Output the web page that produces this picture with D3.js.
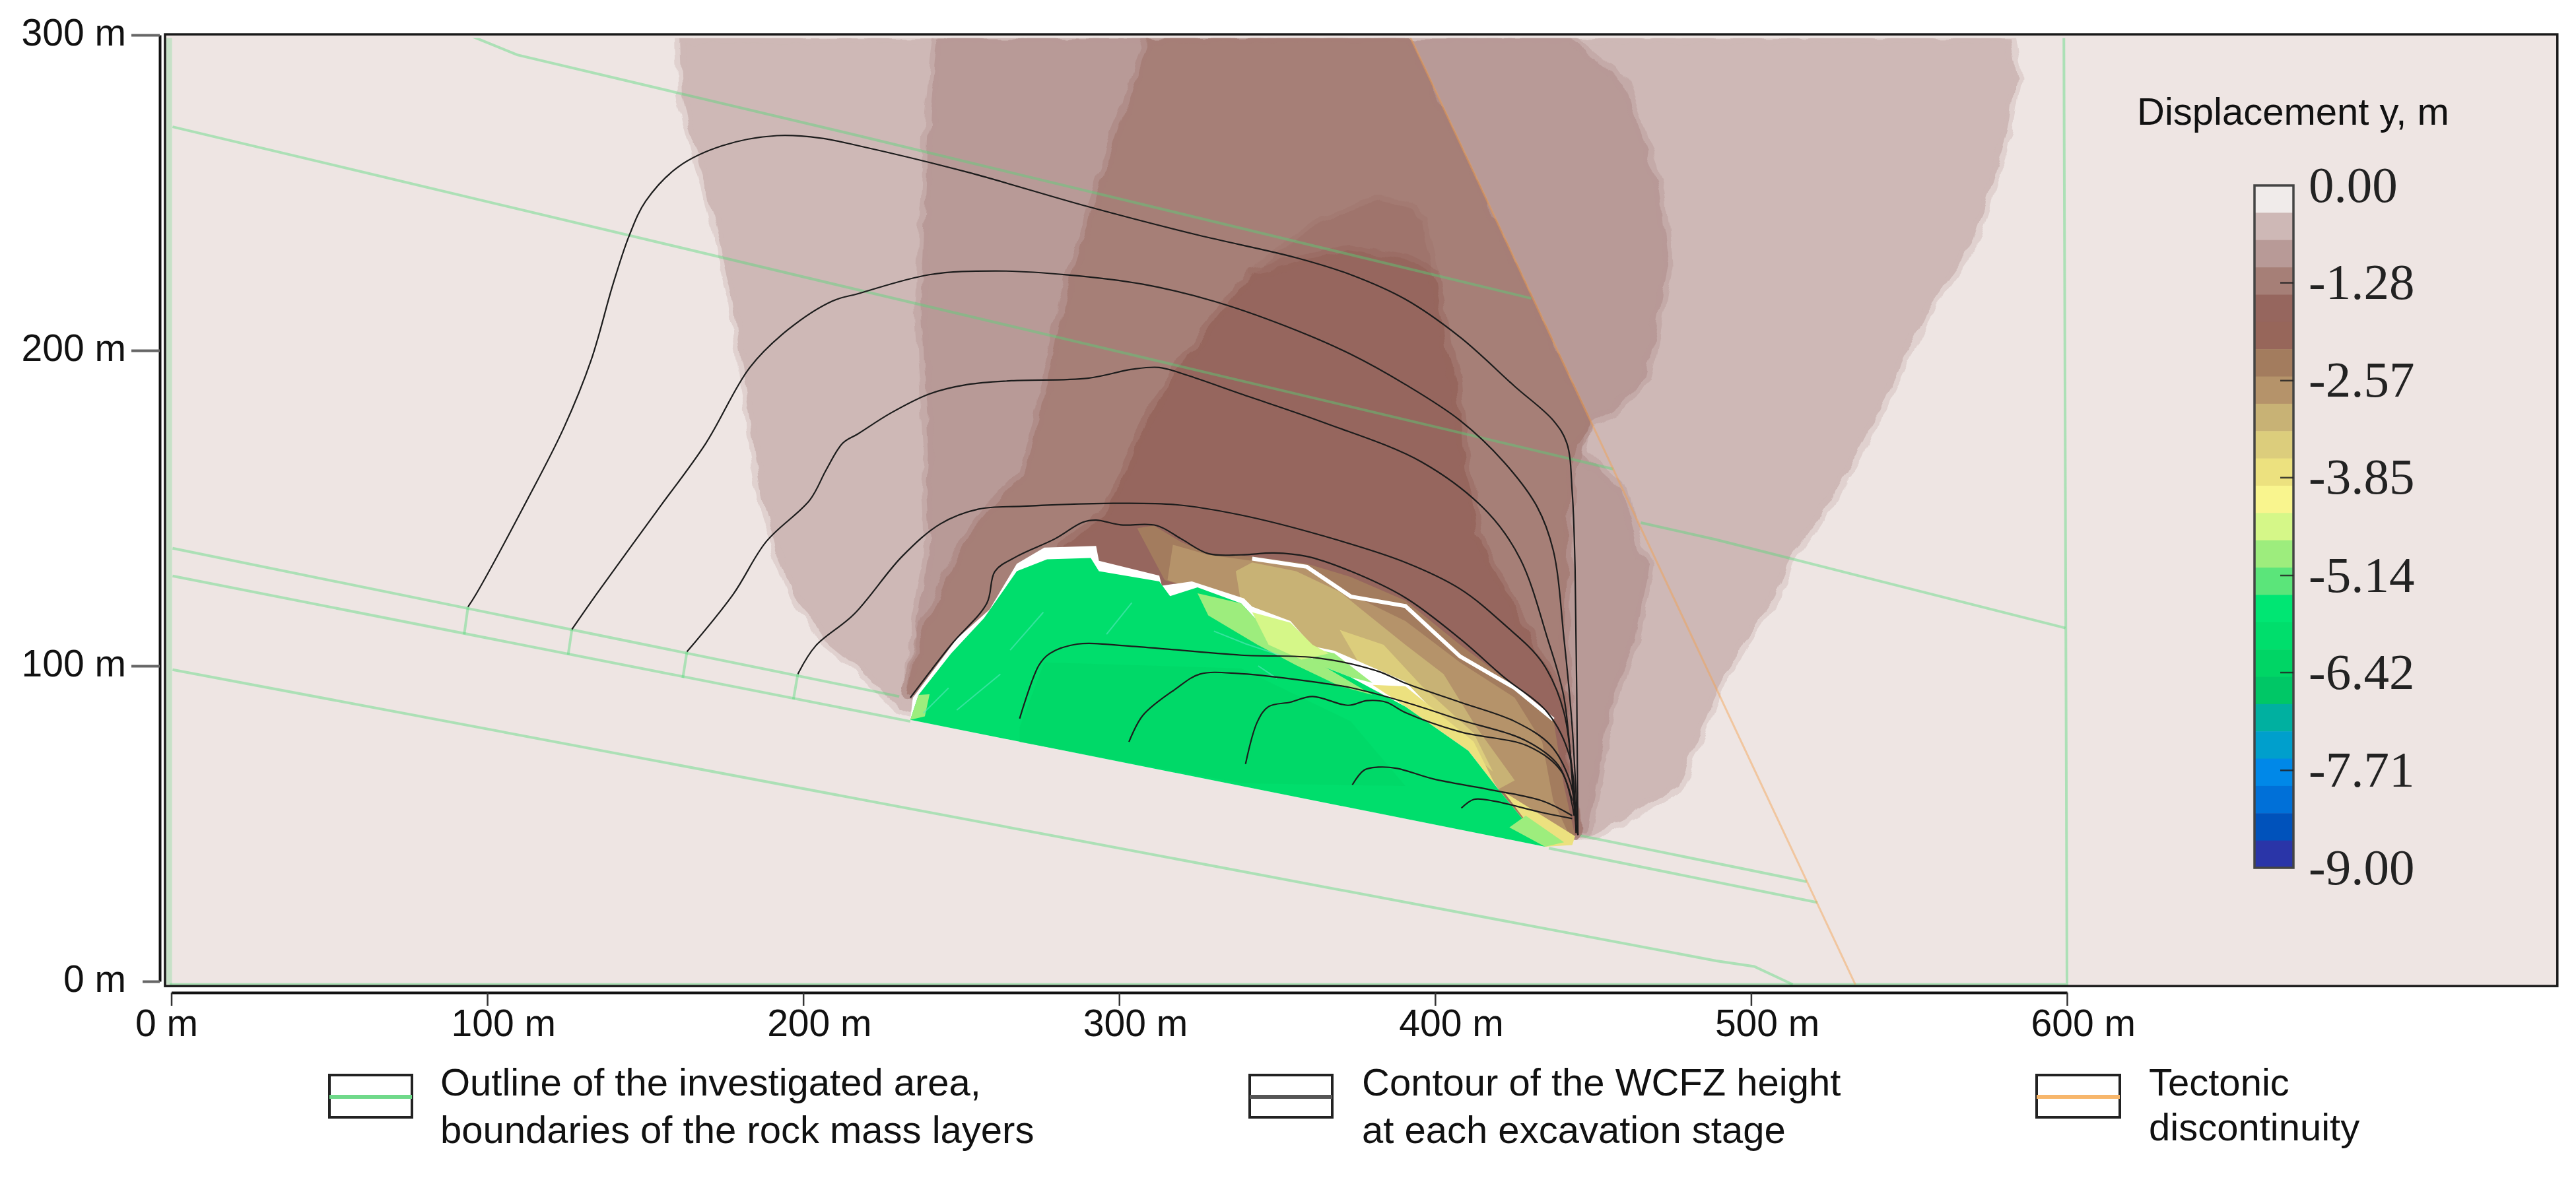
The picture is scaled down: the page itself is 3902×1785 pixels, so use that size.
<!DOCTYPE html>
<html lang="en">
<head>
<meta charset="UTF-8">
<title>Displacement y</title>
<script src="https://d3js.org/d3.v7.min.js"></script>
<style>
body{margin:0; background:#fff;}
text{font-family:"Liberation Sans",Arial,sans-serif; fill:#111;}
.bar text{font-family:"Liberation Serif","Times New Roman",serif; fill:#222;}
</style>
</head>
<body>
<div id="chart"></div>
<script>
// ticks
var xTicks = [0,100,200,300,400,500,600];
var yTicks = [0,100,200,300];
var barTicks = [0,-1.28,-2.57,-3.85,-5.14,-6.42,-7.71,-9];

// colour scale, top of the bar to the bottom
var bandColors = ["#f0ebea","#ceb8b6","#b89a97","#a67f77","#96665e","#97665a","#a37c5e","#b5936a","#c8b275","#dccd7c","#ece17f","#f9f58e","#d5f788","#9ded7d","#5be57a","#00e673","#00de6c","#00d565","#00c766","#00b0a0","#009fcc","#0088e8","#0070d8","#0052bb","#2a35a8"];

// displacement zones, metres [x,y]
var zoneLight = [[161,299.1],[161.6,281],[169.2,251],[177.9,215],[181.4,191],[186.5,155],[193.5,131],[197,122.8],[207.3,107.5],[216,100.4],[222.6,94.5],[230.4,86.6],[234.7,85.2],[449.5,46],[459.9,51.6],[477.2,61.9],[489,90.9],[497.7,107.5],[508,122.8],[513.2,134.6],[530.6,161],[541,181.4],[554.8,211.4],[570.4,234],[581,269],[584,287],[582,299.1]];
var zoneMedium = [[242.5,299],[239.9,275],[237.3,215],[239.9,167],[239,155],[239.9,136.6],[234.7,105.8],[233,90.8],[447.8,46.9],[456.4,89.9],[463.3,108.6],[467.7,131.9],[464.2,137],[459.9,155],[446,167],[447.8,175.4],[456.4,181.4],[466.8,191],[473.7,227],[471.1,251],[459.9,284.7],[442.6,299]];
var zoneStrong = [[309.2,299],[295.3,257],[282.4,215],[277.2,191],[274.6,179],[269.4,161],[260.7,151.4],[250.3,138.4],[236.5,108.6],[233,90.8],[444.3,46.9],[440.8,108.6],[442.6,155.3],[445,170],[449.9,176.6],[392,299.6]];
var zoneDarkTop = [[342.1,224.6],[364.6,241.4],[381.9,247.4],[390.6,246.2],[395.8,241.4],[399.3,224.6]];
var zoneDark = [[342.1,224.6],[355,228],[373,232],[390.6,229],[399.3,224.6],[406.2,191],[409.7,161],[411.4,155.3],[413.1,141.2],[425.2,117.9],[440.8,89.9],[444.3,46.9],[420,60],[290,130],[282,137],[286.7,141.3],[295.3,147.8],[298.8,155],[309.2,179],[324.8,203]];

// caved zone, metres [x,y]
var goafBrown = [[305.7,143.6],[310.9,144.5],[319.6,139.3],[328.2,135.6],[342.1,134.7],[359.4,132.4],[373.3,128.2],[390.6,120.7],[407.9,106.7],[425.2,93.6],[437.4,83.3],[440.8,61.9],[444.3,46],[434.8,42.7],[390.6,87.1],[338.6,119.8],[314.4,127.2]];
var goafTan = [[317,138.4],[328.2,135.2],[342.1,133.3],[359.4,131.9],[369.8,124.4],[390.6,114.2],[407.9,101.1],[425.2,89.9],[433.9,75.9],[437.4,57.2],[442.6,46],[420,60.9],[390.6,87.1],[354.2,108.6],[338.6,119.8],[315.3,127.2]];
var goafSand = [[336.9,130],[342.1,132.8],[356,130],[369.8,123.5],[376.7,117.9],[390.6,106.7],[402.7,97.4],[413.1,80.5],[425.2,63.7],[420,60.9],[410.5,73.1],[390.6,87.1],[361.2,101.1],[343.8,114.2],[338.6,119.8]];
var goafGold = [[369.8,111.4],[383.7,106.7],[395.8,93.6],[412.2,78.7],[418.3,66.5],[410.5,73.1],[390.6,87.1],[378.5,96.4]];
var goafYellow = [[380.2,94],[390.6,93.5],[412.2,76],[419.2,61.9],[410.5,73.1],[390.6,87.1]];
var tipYellow = [[421.8,60],[444.3,46],[443.4,43.2],[434.8,42.7]];
var gapOutline = [[233.9,82.9],[234.7,89.9],[248.6,108.6],[259,117.9],[267.6,132.4],[276.3,137.5],[292.7,138],[293.6,133.3],[312.7,128.6],[313.5,125.4],[323,126.8],[339.5,121.4],[342.1,118.8],[354.2,114.2],[361.2,106.2],[368.1,104.8],[390.6,95],[411.4,73.5],[420,60.9],[434.8,42.7]];
var greenZone = [[233.9,82.9],[236.5,90.8],[246.8,103.9],[257.2,115.1],[267.6,130],[277.2,133.8],[291,134.2],[293.6,130],[312.7,126.8],[316.1,122.1],[324.8,124.9],[338.6,119.8],[343.8,114.2],[354.2,108.6],[361.2,101.1],[373.3,96.4],[390.6,87.1],[410.5,73.1],[420,60.9],[434.8,42.7]];
var greenDeep = [[268.5,75.9],[268.5,80.5],[276.3,101.1],[338.6,99.2],[373.3,82.4],[390.6,61.9],[338.6,62.8]];
var greenPale = [[324.8,123],[338.6,119.8],[343.8,114.2],[356,109.5],[361.2,102],[380.2,90.8],[369.8,93.6],[356,100.2],[343.8,106.7],[328.2,116]];
var greenLime = [[342.1,117],[354.2,113.7],[361.2,106.7],[366.4,103.9],[357.7,102],[347.3,106.7]];
var paleStrip = [[361.2,105.5],[368.1,104],[380.2,94.6],[373.3,96.4],[361.2,101.1]];
var tipPale = [[423.5,48.8],[428.7,52.5],[440.8,44.1],[434.8,42.7]];
var cornerPale = [[233.9,82.9],[236.5,90.8],[240,91],[238.5,84]];
var rimWhite = [[342.1,134],[359.4,131.4],[373.3,122],[390.6,119],[407.9,103],[425.2,93],[437.4,83]];
var scratches = [[[248.6,86],[262.4,97.4]],[[265.5,105],[276,117]],[[330,111],[340,107],[352,103]],[[296,110],[304,120]],[[238,85],[246,93]],[[344,100],[350,96]]];

// layer boundaries, metres [x,y]
var layerTop = [[94.8,299.7],[109.5,293.7],[217.4,268.1],[430.4,216.5]];
var layerSecond = [[0.4,270.9],[217.4,219.2],[456.4,162.4]];
var layerSecondOffset = [[465.1,145.4],[489,140],[599.5,112]];
var layerUpperWest = [[0.4,137.3],[230.4,90.3]];
var layerUpperEast = [[446,46.2],[517.6,31.6]];
var layerLowerWest = [[0.4,128.5],[233.9,82.4]];
var layerLowerEast = [[436,42.2],[521,25]];
var layerBottom = [[0.4,98.8],[489,6.5],[501,4.7],[513.2,-1]];
var outlineRest = [[-0.5,-1],[600,-1],[599,300]];
var outlineLeft = [[-0.7,300],[-0.7,-1]];
var stubA = [[93.9,118.7],[92.7,110]];
var stubB = [[126.8,111.6],[125.6,103.5]];
var stubC = [[163.2,104.5],[161.9,96.2]];
var stubD = [[198.3,97.4],[196.9,89.4]];
var fault = [[392,299.6],[533,-1]];

// WCFZ height contours, metres [x,y]
var contour1 = [[93.9,118.7],[96.5,122.8],[112,151.4],[124.2,175.4],[132.9,197],[139.8,221],[145,236.6],[150.2,247.4],[160.6,258.3],[174.4,264.9],[191.7,268.1],[205.6,267.3],[217.4,264.9],[252,256.5],[290.1,245.6],[324.8,236.6],[356,229.4],[373.3,224],[390.6,216.2],[407.9,204.2],[425.2,188.6],[437.4,177.8],[441.7,170.6],[443.4,155],[444.3,130.9],[445.2,46.4]];
var contour2 = [[126.8,111.6],[134.6,122.8],[153.6,149],[169.2,170.6],[183.1,194.6],[195.2,206.6],[209.1,215.6],[217.4,218],[239.9,224],[260.7,225.2],[283.2,224],[307.5,221],[330,215.6],[352.5,207.8],[373.3,198.8],[390.6,189.2],[407.9,177.8],[421.8,164.6],[432.2,150.6],[437.4,136.6],[440.8,108.6],[443.4,80.5],[445.2,46.4]];
var contour3 = [[163.2,104.5],[177.9,122.8],[188.3,139.4],[202.1,152.6],[207.3,162.2],[212.5,170.6],[217.4,173.6],[227.8,180.2],[239.9,186.2],[252,189.2],[265.9,190.4],[290.1,191.2],[304,194],[312.7,194.6],[321.3,192.2],[338.6,186.2],[364.6,177.2],[395.8,164.6],[416.6,148.7],[427,133.8],[435.6,108.6],[440.8,89.9],[444.3,52.5],[445.2,46.4]];
var contour4 = [[198.3,97.4],[203.9,106.3],[216,116.3],[231.3,134.7],[243.4,145],[255.5,149.7],[269.4,150.6],[295.3,151.5],[317.9,151.1],[338.6,147.8],[364.6,141.2],[390.6,132.8],[407.9,124.4],[421.8,113.2],[433.9,101.1],[440.8,85.2],[444.6,47.8]];
var contour5 = [[233.9,89.9],[246.8,106.7],[258.1,119.8],[260.7,130],[267.6,134.7],[279.7,140.3],[288.4,145.5],[292.7,146.2],[300.5,144.7],[311.8,144.5],[319.6,140.3],[328.2,135.6],[338.6,135.2],[349,135.8],[359.4,134.7],[373.3,130],[390.6,121.6],[407.9,108.6],[421.8,96.4],[435.6,85.2],[442.6,71.2],[444.6,47]];
var contour6 = [[268.5,83.3],[274.6,100.2],[278,103.9],[286.7,106.9],[304,106.2],[338.6,103.4],[362.9,102.5],[381.9,98.3],[390.6,94.5],[407.9,88.5],[425.2,82.4],[436.5,74.9],[442.6,63.7],[444.6,52]];
var contour7 = [[303.1,75.9],[307.5,84.3],[317.9,92.7],[325.6,97.4],[338.6,97.5],[364.6,94.5],[373.3,93.1],[390.6,88.5],[407.9,82.9],[428.7,76.3],[439.1,68.4],[443.4,57.2]];
var contour8 = [[340,68.9],[343.8,82.4],[347.3,87.1],[354.2,88.5],[361.2,90.3],[372.4,87.5],[378.5,89],[384.5,88.5],[390.6,85.2],[407.9,79.1],[429.6,74.5],[440,66.5],[444,52.5]];
var contour9 = [[373.8,62.3],[377.6,67],[382,67.9],[388,67.5],[399.3,64.2],[416.6,60.9],[433.9,57.2],[443.4,52.5]];
var contour10 = [[408.3,54.9],[412.3,57.7],[418.3,57.2],[433.9,53.5],[443.4,51.6]];

var legendOneLines = ["Outline of the investigated area,","boundaries of the rock mass layers"];
var legendTwoLines = ["Contour of the WCFZ height","at each excavation stage"];
var legendThreeLines = ["Tectonic","discontinuity"];

var w = 3902, h = 1785;
var svg = d3.select("#chart").append("svg").attr("width", w).attr("height", h)
	.style("display","block").style("background","#fff");

var xScale = d3.scaleLinear().domain([0,600]).range([259.5,3131]);
var yScale = d3.scaleLinear().domain([0,300]).range([1487,53]);
var barY = d3.scaleLinear().domain([0,-9]).range([281,1315]);
var color = d3.scaleQuantize().domain([-9,0]).range(bandColors.slice().reverse());

var openPath = d3.line().x(function(d){return xScale(d[0]);}).y(function(d){return yScale(d[1]);});
var closedPath = d3.line().x(function(d){return xScale(d[0]);}).y(function(d){return yScale(d[1]);}).curve(d3.curveLinearClosed);
var smoothPath = d3.line().x(function(d){return xScale(d[0]);}).y(function(d){return yScale(d[1]);}).curve(d3.curveCatmullRom.alpha(0.5));

var defs = svg.append("defs");
var rough = defs.append("filter").attr("id","rough")
	.attr("color-interpolation-filters","sRGB")
	.attr("x","-8%").attr("y","-8%").attr("width","116%").attr("height","116%");
rough.append("feTurbulence").attr("type","fractalNoise").attr("baseFrequency",0.03)
	.attr("numOctaves",2).attr("seed",4).attr("result","n");
rough.append("feDisplacementMap").attr("in","SourceGraphic").attr("in2","n").attr("scale",16)
	.attr("xChannelSelector","R").attr("yChannelSelector","G");
defs.append("clipPath").attr("id","plotClip").append("rect")
	.attr("x",xScale(-2)).attr("y",yScale(299)).attr("width",xScale(755.2)-xScale(-2)).attr("height",yScale(-1.5)-yScale(299));
// nothing of the strong zone crosses the fault
defs.append("clipPath").attr("id","faultClip").append("path")
	.attr("d",closedPath([[100,310],[387.2,310],[449.9,176.6],[449.9,30],[100,30]]));

// background
svg.append("rect").attr("x",xScale(-2)).attr("y",yScale(300.2)).attr("width",xScale(755.2)-xScale(-2)).attr("height",yScale(-1.5)-yScale(300.2)).attr("fill","#eee5e3");

var field = svg.append("g").attr("clip-path","url(#plotClip)");

function zone(parent, pts, v){
	return parent.append("path").attr("d",closedPath(pts)).attr("fill",color(v))
		.attr("stroke",color(v)).attr("stroke-opacity",0.45).attr("stroke-width",16).attr("stroke-linejoin","round")
		.attr("filter","url(#rough)");
}
zone(field, zoneLight, -0.54);
zone(field, zoneMedium, -0.9);
zone(field.append("g").attr("clip-path","url(#faultClip)"), zoneStrong, -1.26);
zone(field, zoneDarkTop, -1.62).attr("opacity",0.4);
zone(field, zoneDark, -1.62);

function patch(pts, fill){
	return field.append("path").attr("d",closedPath(pts)).attr("fill",fill);
}
patch(goafBrown, color(-2.34));
patch(goafTan, color(-2.7));
patch(goafSand, color(-3.06));
patch(goafGold, color(-3.42));
field.append("path").attr("d",openPath(rimWhite)).attr("fill","none").attr("stroke","#fff").attr("stroke-width",6);
patch(gapOutline, "#fff");
patch(goafYellow, color(-3.78));
patch(paleStrip, color(-4.86));
patch(greenZone, color(-5.94));
patch(greenDeep, color(-6.3)).attr("opacity",0.6);
patch(greenPale, color(-4.86));
patch(greenLime, color(-4.5));
patch(tipYellow, color(-3.78));
patch(tipPale, color(-4.86));
patch(cornerPale, color(-4.86));
field.selectAll("path.scratch").data(scratches).enter().append("path").attr("class","scratch")
	.attr("d",openPath).attr("fill","none").attr("stroke","#58e6c0").attr("stroke-opacity",0.6).attr("stroke-width",2);

// layers
var greens = [layerTop,layerSecond,layerSecondOffset,layerUpperWest,layerUpperEast,layerLowerWest,layerLowerEast,layerBottom,outlineRest,stubA,stubB,stubC,stubD];
field.selectAll("path.layer").data(greens).enter().append("path").attr("class","layer")
	.attr("d",openPath).attr("fill","none").attr("stroke","#52d877").attr("stroke-opacity",0.42).attr("stroke-width",4);
field.append("path").attr("d",openPath(outlineLeft)).attr("fill","none")
	.attr("stroke","#52d877").attr("stroke-opacity",0.25).attr("stroke-width",9);
field.append("path").attr("d",openPath(fault)).attr("fill","none")
	.attr("stroke","#f4a04c").attr("stroke-opacity",0.45).attr("stroke-width",3);

// contours
var contours = [contour1,contour2,contour3,contour4,contour5,contour6,contour7,contour8,contour9,contour10];
field.selectAll("path.contour").data(contours).enter().append("path").attr("class","contour")
	.attr("d",smoothPath).attr("fill","none").attr("stroke","#1c1c1c").attr("stroke-width",2.2);

// frame
svg.append("rect").attr("x",xScale(-2)).attr("y",yScale(300.2)).attr("width",xScale(755.2)-xScale(-2)).attr("height",yScale(-1.5)-yScale(300.2))
	.attr("fill","none").attr("stroke","#1a1a1a").attr("stroke-width",3.5);

// axes
var yAxis = svg.append("g").attr("transform","translate(242,0)")
	.call(d3.axisLeft(yScale).tickValues(yTicks).tickSizeInner(43).tickSizeOuter(0).tickFormat(function(d){return d+" m";}));
yAxis.select(".domain").attr("stroke","#111").attr("stroke-width",4);
yAxis.selectAll(".tick line").attr("stroke","#666").attr("stroke-width",4)
	.attr("x2",function(d){return d===0 ? -26 : -43;});
yAxis.selectAll(".tick text").attr("x",-51).attr("dy","0.28em").style("font-size","57px").style("font-family","'Liberation Sans'").attr("fill","#111");

var xAxis = svg.append("g").attr("transform","translate(0,1504)")
	.call(d3.axisBottom(xScale).tickValues(xTicks).tickSizeInner(20).tickSizeOuter(0).tickFormat(function(d){return d+" m";}));
xAxis.select(".domain").attr("stroke","#111").attr("stroke-width",4);
xAxis.selectAll(".tick line").attr("stroke","#333").attr("stroke-width",2.5);
xAxis.selectAll(".tick text").attr("x",-55).attr("y",66).attr("dy",0).attr("text-anchor","start")
	.style("font-size","57px").style("font-family","'Liberation Sans'").attr("fill","#111");

// colour bar
svg.append("text").attr("x",3237).attr("y",189).style("font-size","58px").text("Displacement y, m");
var bar = svg.append("g").attr("class","bar");
var step = 9/bandColors.length;
bar.selectAll("rect.band").data(bandColors).enter().append("rect").attr("class","band")
	.attr("x",3415).attr("width",59)
	.attr("y",function(d,i){return barY(-i*step);})
	.attr("height",barY(-step)-barY(0)+0.5)
	.attr("fill",function(d){return d;});
bar.append("rect").attr("x",3415).attr("y",barY(0)).attr("width",59).attr("height",barY(-9)-barY(0))
	.attr("fill","none").attr("stroke","#444").attr("stroke-width",3.5);
var barAxis = bar.append("g").attr("transform","translate(3474,0)")
	.call(d3.axisRight(barY).tickValues(barTicks).tickSizeInner(0).tickSizeOuter(0).tickPadding(23).tickFormat(function(d){return d.toFixed(2);}));
barAxis.select(".domain").remove();
barAxis.selectAll(".tick text").style("font-size","77px").style("font-family","'Liberation Serif'").attr("fill","#222");
barAxis.selectAll(".tick line").attr("x2",-20).attr("stroke","#222").attr("stroke-width",2.5)
	.attr("opacity",function(d){return (d===0||d===-9)?0:0.85;});

// legend
function legendItem(bx, bw, tx, lines, lineColor, lineWidth, secondBase){
	var g = svg.append("g");
	g.append("rect").attr("x",bx).attr("y",1629).attr("width",bw).attr("height",64)
		.attr("fill","#fff").attr("stroke","#222").attr("stroke-width",4);
	g.append("line").attr("x1",bx).attr("x2",bx+bw).attr("y1",1662).attr("y2",1662)
		.attr("stroke",lineColor).attr("stroke-width",lineWidth);
	g.selectAll("text").data(lines).enter().append("text").attr("x",tx)
		.attr("y",function(d,i){return i===0 ? 1660 : secondBase;})
		.style("font-size","58px").text(function(d){return d;});
}
legendItem(499,125,667,legendOneLines,"#6fd98a",6,1732);
legendItem(1893,125,2063,legendTwoLines,"#555",6,1732);
legendItem(3085,126,3255,legendThreeLines,"#f7b66b",6,1728);
</script>
</body>
</html>
